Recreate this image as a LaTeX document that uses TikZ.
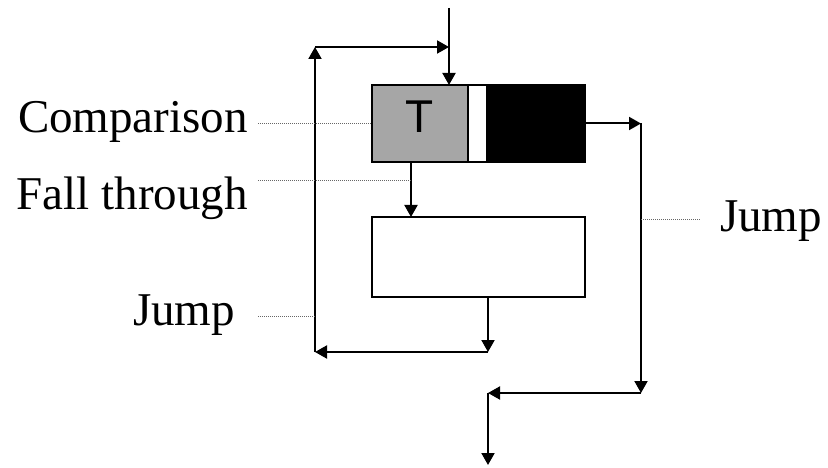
\documentclass[tikz,border=0pt]{standalone}
\usepackage{fontspec}
\setmainfont{Liberation Serif}
\newfontfamily\arialfont{Liberation Sans}
\usetikzlibrary{arrows.meta}

\begin{document}
\begin{tikzpicture}[x=1pt,y=-1pt,font=\fontsize{47}{56}\selectfont, line join=miter, >={Triangle[length=12pt,width=13pt]},
	flow/.style={line width=2pt,->},
	lead/.style={gray!80!black,line width=1pt,dash pattern=on 1pt off 1pt},
	part/.style={draw,line width=2pt,inner sep=0pt,outer sep=0pt,minimum height=77pt}]
	\useasboundingbox (0,0) rectangle (828,468);
	% instruction: comparison, gap, jump target
	\node[part,fill=gray!70,minimum width=96pt] (cmp) at (420,123.5) {};
	\node[part,fill=white,minimum width=19pt,anchor=west] (gap) at (cmp.east) {};
	\node[part,fill=black,minimum width=98pt,anchor=west] (tgt) at (gap.east) {};
	\node[anchor=base,inner sep=0pt,font=\arialfont\fontsize{46}{50}\selectfont] (tee) at (cmp.center |- 0,133) {T};
	\node[part,minimum width=213pt,minimum height=80pt] (body) at (478.5,257) {};
	% corners of the paths
	\coordinate (in) at (449,8);
	\coordinate (ft) at (411,181);
	\coordinate (lr) at (449,47);
	\coordinate (lt) at (315,47);
	\coordinate (lb) at (315,352);
	\coordinate (bo) at (488,352);
	\coordinate (jr) at (641,123.5);
	\coordinate (jb) at (641,393);
	\coordinate (xt) at (488,393);
	\coordinate (xb) at (488,465);
	\draw[flow] (in) -- (in |- cmp.north);
	\draw[flow] (cmp.south -| ft) -- (body.north -| ft);
	\draw[flow] (body.south -| bo) -- (bo);
	\draw[flow] (bo) -- (lb);
	\draw[flow] (lb) -- (lt);
	\draw[flow] (lt) -- (lr);
	\draw[flow] (tgt.east) -- (jr);
	\draw[flow] (jr) -- (jb);
	\draw[flow] (jb) -- (xt);
	\draw[flow] (xt) -- (xb);
	% labels and leaders
	\node[anchor=base east,inner sep=0pt] (lcmp) at (248,133) {Comparison};
	\node[anchor=base east,inner sep=0pt] (lft) at (248,210) {Fall through};
	\node[anchor=base west,inner sep=0pt] (ljl) at (133,325) {Jump};
	\node[anchor=base west,inner sep=0pt] (ljr) at (720,232) {Jump};
	\coordinate (dcmp) at (258,123.5);
	\coordinate (dft) at (258,181);
	\coordinate (djl) at (258,316);
	\coordinate (djla) at (315,316);
	\coordinate (djr) at (641,220);
	\coordinate (djrb) at (700,220);
	\draw[lead] (dcmp) -- (cmp.west);
	\draw[lead] (dft) -- (ft);
	\draw[lead] (djl) -- (djla);
	\draw[lead] (djr) -- (djrb);
\end{tikzpicture}
\end{document}
